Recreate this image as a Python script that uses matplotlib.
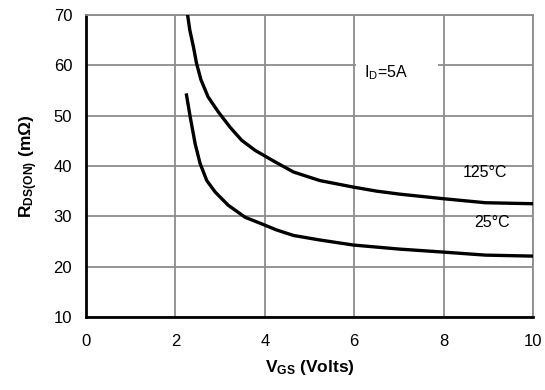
import matplotlib
matplotlib.use("Agg")
import matplotlib.pyplot as plt
from matplotlib.patches import Rectangle

plt.rcParams['font.family'] = ['Liberation Sans', 'DejaVu Sans']
plt.rcParams['mathtext.default'] = 'regular'

# R_DS(ON) vs V_GS, I_D = 5A
vgs_125 = [2.27, 2.32, 2.40, 2.47, 2.57, 2.73, 2.96, 3.22, 3.48, 3.78, 4.23,
           4.64, 5.23, 5.98, 6.50, 7.02, 7.99, 8.93, 10.0]
rds_125 = [70.0, 67.0, 63.7, 60.4, 57.1, 53.7, 50.7, 47.7, 45.1, 43.1, 40.8,
           38.8, 37.1, 35.8, 35.0, 34.4, 33.5, 32.7, 32.5]

vgs_25 = [2.24, 2.33, 2.44, 2.55, 2.70, 2.89, 3.18, 3.56, 3.93, 4.26,
          4.64, 5.23, 5.98, 7.0, 7.99, 8.93, 10.0]
rds_25 = [54.4, 49.7, 44.4, 40.5, 37.1, 34.8, 32.2, 29.8, 28.5, 27.3,
          26.2, 25.3, 24.3, 23.5, 22.9, 22.3, 22.1]

fig = plt.figure(figsize=(5.45, 3.9), dpi=100)
ax = fig.add_axes([0.158, 0.187, 0.82, 0.775])

ax.plot(vgs_125, rds_125, color='black', lw=2.4, solid_capstyle='butt', zorder=3)
ax.plot(vgs_25, rds_25, color='black', lw=2.4, solid_capstyle='butt', zorder=3)

ax.set_xlim(0, 10)
ax.set_ylim(10, 70)
ax.set_xticks(range(0, 11, 2))
ax.set_yticks(range(10, 71, 10))
ax.grid(True, color='#8c8c8c', lw=1.3)
ax.set_axisbelow(True)
ax.tick_params(length=0, labelsize=12)
ax.tick_params(axis='x', pad=12)
ax.tick_params(axis='y', pad=10)

for s in ['top', 'right']:
    ax.spines[s].set_color('#8c8c8c')
    ax.spines[s].set_linewidth(1.3)
for s in ['left', 'bottom']:
    ax.spines[s].set_color('black')
    ax.spines[s].set_linewidth(2)

ax.set_xlabel(r'V$_{GS}$ (Volts)', fontsize=12.5, fontweight='bold', labelpad=7)
ax.set_ylabel(r'R$_{DS(ON)}$ (m$\Omega$)', fontsize=12.5, fontweight='bold', labelpad=10)

# white patch behind the I_D label, hides the 60 gridline
ax.add_patch(Rectangle((6.04, 57), 1.83, 4, facecolor='white', edgecolor='none', zorder=1.5))
ax.text(6.22, 58.5, r'I$_D$=5A', fontsize=11.5, ha='left', va='center', zorder=4)
ax.text(8.43, 38.6, '125°C', fontsize=11.5, ha='left', va='center')
ax.text(8.68, 28.8, '25°C', fontsize=11.5, ha='left', va='center')

fig.savefig('out.png', dpi=100)
